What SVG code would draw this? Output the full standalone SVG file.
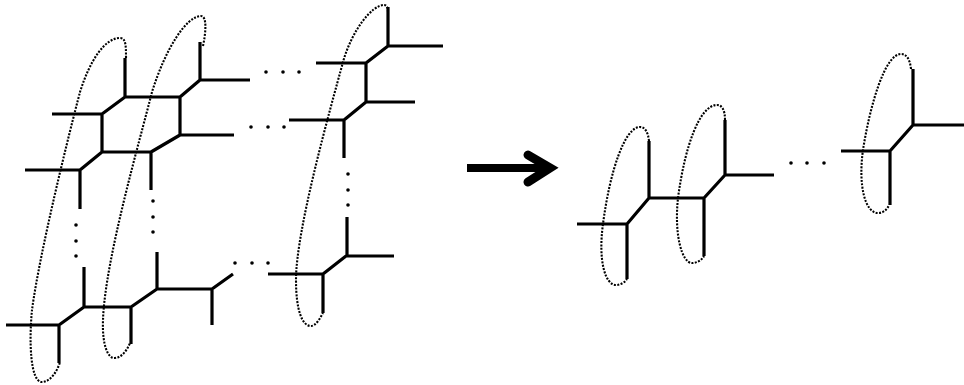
<svg xmlns="http://www.w3.org/2000/svg" width="964" height="385" viewBox="0 0 964 385">
<style>
.e{fill:none;stroke:#000;stroke-width:3.2;stroke-linecap:butt;stroke-linejoin:round}
.l{fill:none;stroke:#000;stroke-width:2.1;stroke-dasharray:2 1.4}
.d{fill:#000}
</style>
<rect width="964" height="385" fill="#fff"/>
<g id="left-loops">
<path class="l" d="M126 58C126 46 126 38 120 38C105 38 90 60 80 92C70 130 40 250 32 310C29 340 30 382 42 382C50 382 57 372 60 362"/>
<path class="l" d="M203 46C206 32 207 16 201 16C186 16 165 50 152 92C140 140 105 260 103 320C102 345 108 358 114 358C122 358 127 350 130 343"/>
<path class="l" d="M388 12C388 8 387 5 384 5C372 5 352 30 343 62C330 110 296 230 296 280C296 310 302 326 311 326C316 326 320 318 323 313"/>
</g>
<g id="left-network">
<path class="e" d="M125 58V97H180L200 80V42M200 80H250M180 97V135H234M180 135L151 152H102V114L125 97M102 114H52M102 152L80 170H25M80 170V209M151 152V190"/>
<path class="e" d="M84 267V307H131M84 307L59 325H6M59 325V363M131 307V344M131 307L157 289V252M157 289H212L233 274M212 289V325"/>
<path class="e" d="M268 274H323V313M323 274L346 256H394M347 256V217"/>
<path class="e" d="M388 7V46H443M388 46L366 63H316M366 63V102H415M366 102L344 120H289M344 120V158"/>
</g>
<g id="left-dots" class="d">
<circle cx="266" cy="72" r="1.8"/><circle cx="283" cy="72" r="1.8"/><circle cx="299" cy="72" r="1.8"/>
<circle cx="251" cy="127" r="1.8"/><circle cx="268" cy="127" r="1.8"/><circle cx="284" cy="127" r="1.8"/>
<circle cx="348" cy="174" r="1.8"/><circle cx="348" cy="190" r="1.8"/><circle cx="348" cy="205" r="1.8"/>
<circle cx="76" cy="225" r="1.8"/><circle cx="76" cy="241" r="1.8"/><circle cx="76" cy="256" r="1.8"/>
<circle cx="153" cy="201" r="1.8"/><circle cx="153" cy="217" r="1.8"/><circle cx="153" cy="232" r="1.8"/>
<circle cx="235" cy="263" r="1.8"/><circle cx="252" cy="263" r="1.8"/><circle cx="268" cy="263" r="1.8"/>
</g>
<g id="arrow">
<path d="M467 168H548" fill="none" stroke="#000" stroke-width="8"/>
<path d="M528 155L550 168L528 182" fill="none" stroke="#000" stroke-width="9" stroke-linecap="round" stroke-linejoin="miter"/>
</g>
<g id="right-loops">
<path class="l" d="M649 141C648 132 645 127 640 127C625 127 610 170 603 224C598 260 605 285 616 285C621 285 625 282 627 279"/>
<path class="l" d="M725 120C725 110 722 105 717 105C700 105 685 145 678 198C674 235 682 263 692 263C697 263 702 260 704 256"/>
<path class="l" d="M911 69C910 60 907 54 901 54C885 54 870 105 863 150C858 185 865 213 878 213C883 213 887 210 889 205"/>
</g>
<g id="right-network">
<path class="e" d="M649 141V198L627 224H577M627 224V279M649 198H704V256M704 198L725 175V120M725 175H774"/>
<path class="e" d="M913 69V125H964M913 125L890 151H841M890 151V205"/>
</g>
<g id="right-dots" class="d">
<circle cx="791" cy="163" r="1.8"/><circle cx="807" cy="163" r="1.8"/><circle cx="824" cy="163" r="1.8"/>
</g>
</svg>
